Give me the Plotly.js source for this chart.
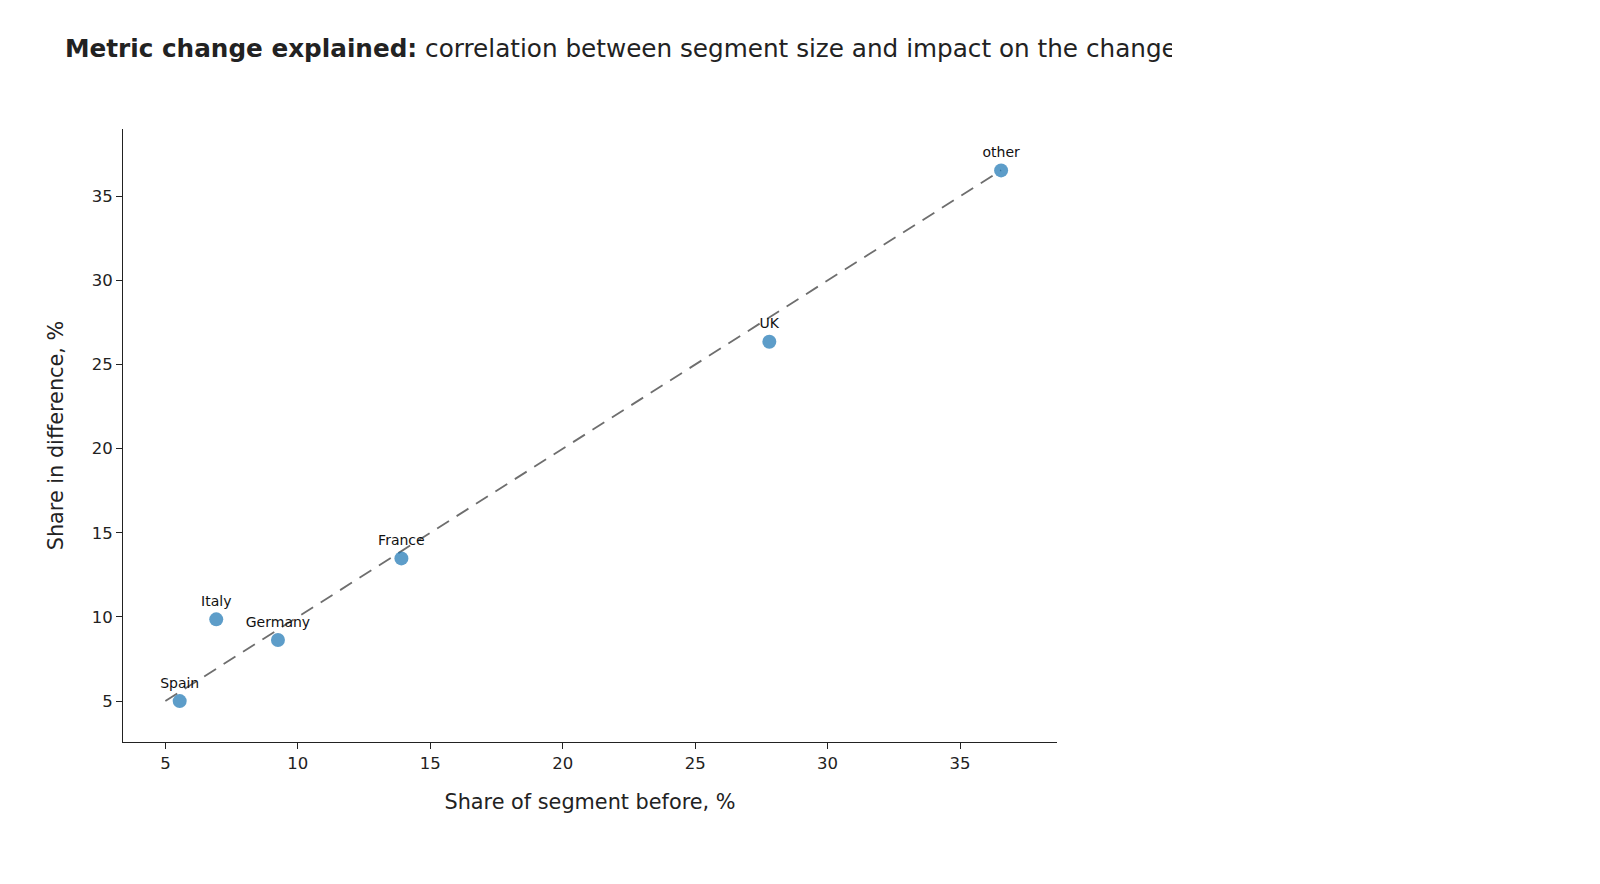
<!DOCTYPE html>
<html>
<head>
<meta charset="utf-8">
<script src="https://cdn.plot.ly/plotly-3.0.1.min.js"></script>
<style>html,body{margin:0;padding:0;background:#fff;}</style>
</head>
<body>
<div id="chart"></div>
<script>
const segments = ["Spain", "Italy", "Germany", "France", "UK", "other"];
const shareBefore = [5.54, 6.92, 9.25, 13.91, 27.80, 36.55];
const shareDiff = [5.00, 9.86, 8.63, 13.48, 26.36, 36.54];
const diagX = [5.0, 36.55];
const diagY = [5.0, 36.55];

const font = "Verdana, 'DejaVu Sans', sans-serif";

const traces = [
  {
    x: diagX, y: diagY, mode: "lines", type: "scatter",
    line: {color: "#6e6e6e", width: 1.8, dash: "14px,9px"},
    hoverinfo: "skip", showlegend: false
  },
  {
    x: shareBefore, y: shareDiff, text: segments,
    mode: "markers+text", type: "scatter", textposition: "top center",
    textfont: {family: font, size: 14, color: "#111"},
    marker: {color: "#1f77b4", size: 14, opacity: 0.72},
    showlegend: false
  }
];

const layout = {
  width: 1172, height: 884,
  paper_bgcolor: "#fff", plot_bgcolor: "#fff",
  font: {family: font, size: 16, color: "#222"},
  margin: {l: 123, r: 115, t: 129, b: 142},
  title: {
    text: "<b>Metric change explained:</b> correlation between segment size and impact on the change",
    font: {family: font, size: 24.7, color: "#222"},
    x: 65/1172, xref: "container", xanchor: "left",
    y: 1 - 48/884, yref: "container", yanchor: "middle"
  },
  xaxis: {
    range: [3.40, 38.66], showline: true, linecolor: "#222", linewidth: 1,
    ticks: "outside", ticklen: 6, tickcolor: "#222", showgrid: false, zeroline: false,
    tickvals: [5, 10, 15, 20, 25, 30, 35],
    tickfont: {size: 16.5},
    title: {text: "Share of segment before, %", font: {size: 20.8}, standoff: 22}
  },
  yaxis: {
    range: [2.57, 39.0], showline: true, linecolor: "#222", linewidth: 1,
    ticks: "outside", ticklen: 6, tickcolor: "#222", showgrid: false, zeroline: false,
    tickvals: [5, 10, 15, 20, 25, 30, 35],
    tickfont: {size: 16.5},
    title: {text: "Share in difference, %", font: {size: 20.8}, standoff: 22}
  }
};

Plotly.newPlot("chart", traces, layout, {displayModeBar: false});
</script>
</body>
</html>
